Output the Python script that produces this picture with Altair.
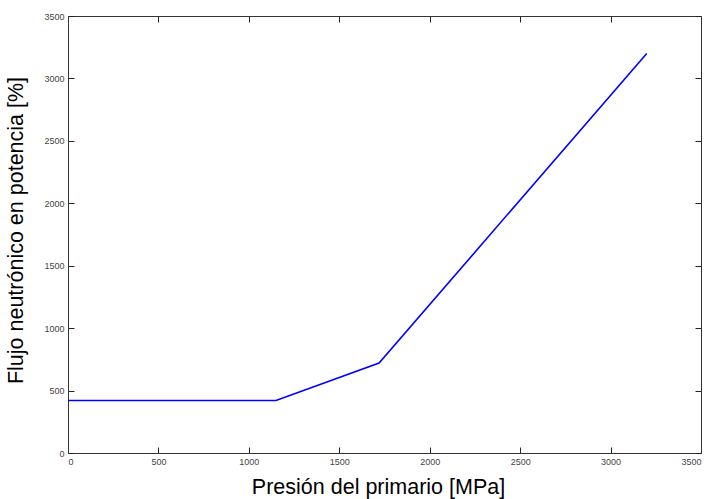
import altair as alt
import pandas as pd

# Breakpoints of the primary-pressure / neutron-flux curve
presion = [0, 1150, 1720, 3200]
flujo = [420, 420, 720, 3200]

df = pd.DataFrame({"presion": presion, "flujo": flujo})

W, H = 633, 437
inward = {"expr": "-6"}

x_scale = alt.Scale(domain=[0, 3500], nice=False, zero=False)
y_scale = alt.Scale(domain=[0, 3500], nice=False, zero=False)
tick_vals = list(range(0, 3501, 500))

line = alt.Chart(df).mark_line(color="#0000ff", strokeWidth=1.6).encode(
    x=alt.X("presion:Q", scale=x_scale,
            axis=alt.Axis(title="Presión del primario [MPa]", values=tick_vals,
                          format="d", orient="bottom", titlePadding=10, titleX=310)),
    y=alt.Y("flujo:Q", scale=y_scale,
            axis=alt.Axis(title="Flujo neutrónico en potencia [%]", values=tick_vals,
                          format="d", orient="left", titlePadding=16, titleY=214)),
)

# Unlabelled mirror axes closing the box on top and right
frame = alt.Chart(df).mark_point(opacity=0).encode(
    x=alt.X("presion:Q", scale=x_scale,
            axis=alt.Axis(title=None, labels=False, values=tick_vals, orient="top")),
    y=alt.Y("flujo:Q", scale=y_scale,
            axis=alt.Axis(title=None, labels=False, values=tick_vals, orient="right")),
)

chart = (
    alt.layer(line, frame)
    .resolve_axis(x="independent", y="independent")
    .properties(
        width=W,
        height=H,
        autosize=alt.AutoSizeParams(type="none"),
        padding={"left": 68, "top": 16, "right": 6, "bottom": 46},
        background="white",
    )
    .configure_view(stroke=None)
    .configure_axis(
        grid=False,
        domainColor="#333333",
        domainWidth=1,
        tickColor="#222222",
        tickWidth=1,
        tickSize=inward,
        labelFont="Liberation Sans",
        labelFontSize=9,
        labelColor="#444444",
        labelPadding=10,
        titleFont="Liberation Sans",
        titleFontSize=21.5,
        titleFontWeight="normal",
        titleColor="#000000",
    )
)

chart.save("out.html", embed_options={"renderer": "svg", "actions": False})
